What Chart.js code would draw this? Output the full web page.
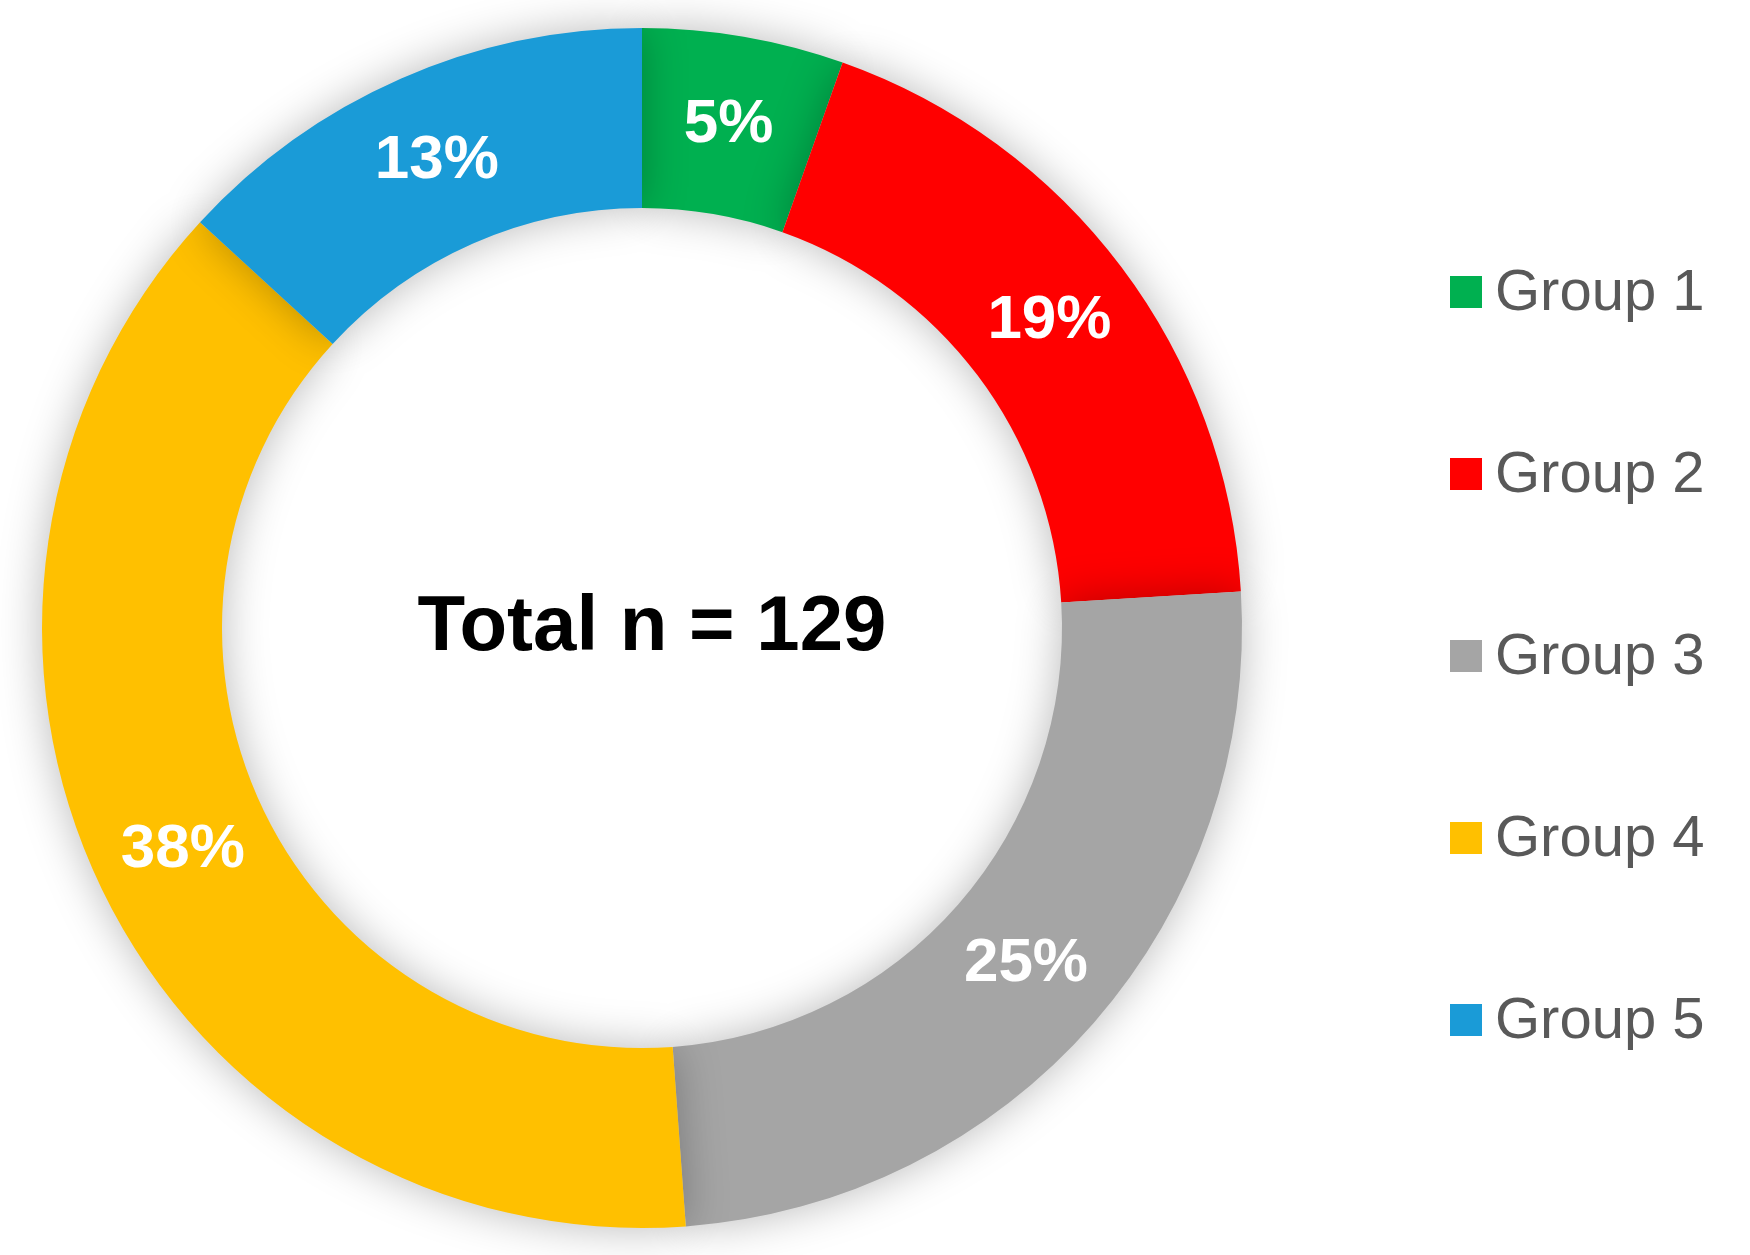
<!DOCTYPE html>
<html>
<head>
<meta charset="utf-8">
<script src="https://cdn.jsdelivr.net/npm/chart.js@4.4.0/dist/chart.umd.min.js"></script>
<style>
  html, body { margin: 0; padding: 0; background: #fff; }
  canvas { display: block; }
</style>
</head>
<body>
<canvas id="c" width="1750" height="1255"></canvas>
<script>
// data
const groups = ['Group 1', 'Group 2', 'Group 3', 'Group 4', 'Group 5'];
const counts = [7, 24, 32, 49, 17];
const percentLabels = ['5%', '19%', '25%', '38%', '13%'];
const colors = ['#00B050', '#FF0000', '#A5A5A5', '#FFC000', '#1A9BD7'];
const totalText = 'Total n = 129';

// shadow around the ring
const shadowPlugin = {
    id: 'ringShadow',
    beforeDatasetsDraw(chart) {
        const ctx = chart.ctx;
        ctx.save();
        ctx.shadowColor = 'rgba(0,0,0,0.28)';
        ctx.shadowBlur = 45;
    },
    afterDatasetsDraw(chart) {
        chart.ctx.restore();
    }
};

// percent labels, center text, legend
const textPlugin = {
    id: 'texts',
    afterDraw(chart) {
        const ctx = chart.ctx;
        const meta = chart.getDatasetMeta(0);
        ctx.save();
        ctx.textAlign = 'center';
        ctx.textBaseline = 'middle';
        ctx.fillStyle = '#fff';
        ctx.font = 'bold 62px "Liberation Sans", Arial, sans-serif';
        meta.data.forEach((arc, i) => {
            const p = arc.tooltipPosition();
            ctx.fillText(percentLabels[i], p.x, p.y);
        });
        const first = meta.data[0];
        ctx.fillStyle = '#000';
        ctx.font = 'bold 78px "Liberation Sans", Arial, sans-serif';
        ctx.fillText(totalText, first.x + 10, first.y);

        // legend
        ctx.textAlign = 'left';
        ctx.font = '58px "Liberation Sans", Arial, sans-serif';
        groups.forEach((g, i) => {
            const y = 292 + i * 182;
            ctx.fillStyle = colors[i];
            ctx.fillRect(1450, y - 16, 32, 32);
            ctx.fillStyle = '#595959';
            ctx.fillText(g, 1495, y + 2);
        });
        ctx.restore();
    }
};

new Chart(document.getElementById('c'), {
    type: 'doughnut',
    data: {
        labels: groups,
        datasets: [{
            data: counts,
            backgroundColor: colors,
            borderWidth: 0
        }]
    },
    options: {
        responsive: false,
        animation: false,
        cutout: '70%',
        layout: { padding: { left: 42, right: 508, top: 28, bottom: 27 } },
        plugins: {
            legend: { display: false },
            tooltip: { enabled: false }
        }
    },
    plugins: [shadowPlugin, textPlugin]
});
</script>
</body>
</html>
